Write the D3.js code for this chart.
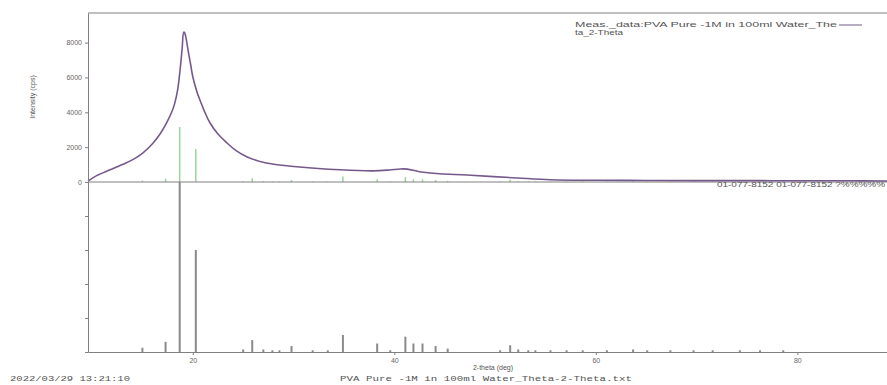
<!DOCTYPE html>
<html>
<head>
<meta charset="utf-8">
<script src="https://cdn.jsdelivr.net/npm/d3@7"></script>
<style>
  body { margin: 0; background: #fff; }
  svg { display: block; }
  .axis path, .axis line { stroke: #808080; }
  .axis text { fill: #666; font-family: "Liberation Sans", Arial, sans-serif; font-size: 7px; }
</style>
</head>
<body>
<svg id="chart"></svg>
<script>
// measured profile (2-theta in deg, intensity in cps)
const profileTheta = [9.6, 10.5, 11.8, 13.0, 14.0, 15.0, 16.0, 16.8, 17.4, 17.9, 18.2, 18.5, 18.75, 18.95, 19.1, 19.2, 19.35, 19.55, 19.8, 20.0, 20.4, 20.7, 21.2, 21.7, 22.5, 23.4, 24.3, 25.4, 27.3, 30.6, 34.6, 37.9, 39.5, 40.6, 41.3, 42.5, 44.5, 47.2, 52.2, 55.5, 60, 65, 70, 75, 80, 85, 88.9];
const profileCps   = [50, 380, 700, 1000, 1270, 1650, 2200, 2800, 3400, 4000, 4500, 5300, 6500, 7700, 8600, 8550, 8200, 7500, 6700, 6040, 5200, 4720, 4000, 3400, 2750, 2240, 1800, 1440, 1090, 860, 700, 640, 690, 750, 740, 590, 470, 400, 230, 130, 100, 90, 80, 80, 70, 70, 60];

// reference card peaks (2-theta, relative intensity %)
const peakTheta = [15.0, 17.3, 18.7, 20.3, 25.0, 25.9, 27.0, 27.9, 28.6, 29.8, 31.9, 33.4, 34.9, 38.3, 39.6, 41.1, 41.9, 42.8, 44.1, 45.3, 50.5, 51.5, 52.3, 53.3, 54.0, 55.5, 57.1, 58.7, 61.1, 63.7, 65.1, 67.4, 69.7, 71.6, 74.3, 76.3, 78.6];
const peakRel   = [2.5, 6, 100, 60, 1.5, 7, 1.5, 1, 1, 3.5, 1, 1, 10, 5, 1, 9, 5, 5, 3.5, 2, 1, 4, 1.5, 1, 1, 1, 1, 1, 1, 1.5, 1, 1, 1, 1, 1, 1, 1];

const xTicks = [20, 40, 60, 80];
const cpsTicks = [0, 2000, 4000, 6000, 8000];
const relTicks = [0, 20, 40, 60, 80, 100];

const legendLines = ["Meas._data:PVA Pure -1M in 100ml Water_The", "ta_2-Theta"];
const cardText = "01-077-8152 01-077-8152 ?%%%%%";
const stampText = "2022/03/29 13:21:10";
const fileText = "PVA Pure -1M in 100ml Water_Theta-2-Theta.txt";

const width = 887, height = 385;
const frame = { left: 88, right: 887, top: 13, mid: 182, bottom: 352 };

const svg = d3.select("#chart").attr("width", width).attr("height", height);

const x = d3.scaleLinear().domain([9.6, 88.9]).range([frame.left, frame.right]);
const yCps = d3.scaleLinear().domain([0, 9700]).range([frame.mid, frame.top]);
const yRel = d3.scaleLinear().domain([0, 100]).range([frame.bottom, frame.mid]);

const peaks = peakTheta.map((t, i) => ({ t, r: peakRel[i] }));

// top border
svg.append("line")
    .attr("x1", frame.left).attr("x2", frame.right)
    .attr("y1", frame.top).attr("y2", frame.top)
    .attr("stroke", "#808080");

// upper panel green sticks
svg.append("g").selectAll("line")
    .data(peaks).enter()
    .append("line")
        .attr("x1", d => x(d.t)).attr("x2", d => x(d.t))
        .attr("y1", yCps(0)).attr("y2", d => yCps(d.r * 31.6))
        .attr("stroke", "#9bd49b")
        .attr("stroke-width", 1.5);

// lower panel sticks
svg.append("g").selectAll("line")
    .data(peaks).enter()
    .append("line")
        .attr("x1", d => x(d.t)).attr("x2", d => x(d.t))
        .attr("y1", yRel(0)).attr("y2", d => yRel(d.r))
        .attr("stroke", "#8a8a8a")
        .attr("stroke-width", 2);

// zero line of upper panel
svg.append("line")
    .attr("x1", frame.left).attr("x2", frame.right)
    .attr("y1", frame.mid).attr("y2", frame.mid)
    .attr("stroke", "#808080");

// profile
const line = d3.line()
    .x(d => x(d[0]))
    .y(d => yCps(d[1]))
    .curve(d3.curveCatmullRom.alpha(0.5));

svg.append("path")
    .datum(profileTheta.map((t, i) => [t, profileCps[i]]))
    .attr("d", line)
    .attr("fill", "none")
    .attr("stroke", "#76598c")
    .attr("stroke-width", 1.6);

// axes
const yAxisTop = d3.axisLeft(yCps).tickValues(cpsTicks).tickSize(3).tickSizeOuter(0).tickFormat(d3.format("d"));
svg.append("g").attr("class", "axis")
    .attr("transform", `translate(${frame.left},0)`)
    .call(yAxisTop);

const yAxisBot = d3.axisLeft(yRel).tickValues(relTicks).tickSize(3).tickSizeOuter(0).tickFormat("");
svg.append("g").attr("class", "axis")
    .attr("transform", `translate(${frame.left},0)`)
    .call(yAxisBot);

const xAxis = d3.axisBottom(x).tickValues(xTicks).tickSize(3).tickSizeOuter(0);
svg.append("g").attr("class", "axis")
    .attr("transform", `translate(0,${frame.bottom})`)
    .call(xAxis);

// axis titles
svg.append("text")
    .attr("transform", "translate(35,97) rotate(-90)")
    .attr("text-anchor", "middle")
    .attr("font-family", "Liberation Sans, Arial, sans-serif")
    .attr("font-size", 7)
    .attr("fill", "#555")
    .text("Intensity (cps)");

svg.append("text")
    .attr("x", 493).attr("y", 370)
    .attr("text-anchor", "middle")
    .attr("font-family", "Liberation Sans, Arial, sans-serif")
    .attr("font-size", 7)
    .attr("fill", "#555")
    .text("2-theta (deg)");

// legend
const legend = svg.append("g")
    .attr("font-family", "Liberation Sans, Arial, sans-serif")
    .attr("font-size", 7)
    .attr("fill", "#555");
legend.append("text")
    .attr("x", 575).attr("y", 27)
    .attr("textLength", 262).attr("lengthAdjust", "spacingAndGlyphs")
    .text(legendLines[0]);
legend.append("text")
    .attr("x", 575).attr("y", 34.5)
    .attr("textLength", 48).attr("lengthAdjust", "spacingAndGlyphs")
    .text(legendLines[1]);
legend.append("line")
    .attr("x1", 839).attr("x2", 862)
    .attr("y1", 25).attr("y2", 25)
    .attr("stroke", "#76598c")
    .attr("stroke-width", 1);

// card label below zero line
svg.append("text")
    .attr("x", 717).attr("y", 187)
    .attr("textLength", 168).attr("lengthAdjust", "spacingAndGlyphs")
    .attr("font-family", "Liberation Sans, Arial, sans-serif")
    .attr("font-size", 7)
    .attr("fill", "#555")
    .text(cardText);

// footer
svg.append("text")
    .attr("x", 10).attr("y", 381)
    .attr("textLength", 120).attr("lengthAdjust", "spacingAndGlyphs")
    .attr("font-family", "Liberation Mono, monospace")
    .attr("font-size", 8)
    .attr("fill", "#555")
    .text(stampText);

svg.append("text")
    .attr("x", 340).attr("y", 381)
    .attr("textLength", 292).attr("lengthAdjust", "spacingAndGlyphs")
    .attr("font-family", "Liberation Mono, monospace")
    .attr("font-size", 8)
    .attr("fill", "#555")
    .text(fileText);
</script>
</body>
</html>
